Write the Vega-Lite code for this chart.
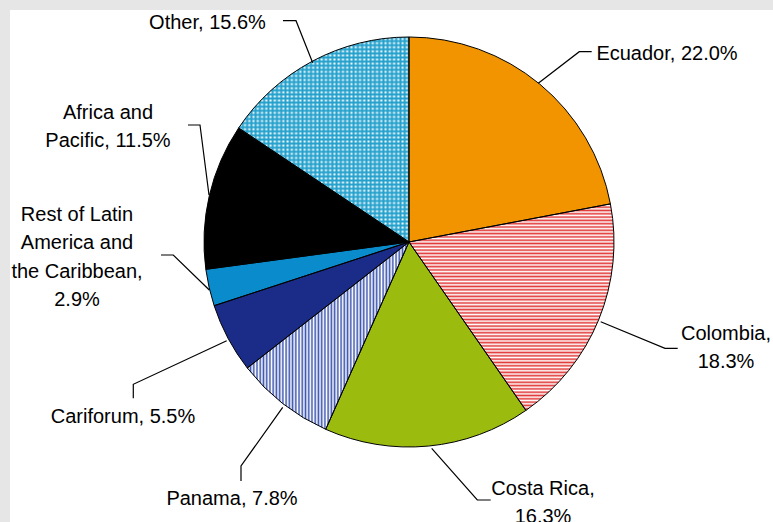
{
  "$schema": "https://vega.github.io/schema/vega-lite/v6.json",
  "width": 763,
  "height": 512,
  "autosize": {"type": "none"},
  "padding": {"left": 10, "top": 10, "right": 0, "bottom": 0},
  "background": "#e6e6e6",
  "view": {"fill": "#ffffff", "stroke": null},
  "datasets": {
    "slices": [
      {"region": "Ecuador", "share": 22.0, "idx": 1},
      {"region": "Colombia", "share": 18.3, "idx": 2},
      {"region": "Costa Rica", "share": 16.3, "idx": 3},
      {"region": "Panama", "share": 7.8, "idx": 4},
      {"region": "Cariforum", "share": 5.5, "idx": 5},
      {"region": "Rest of Latin America and the Caribbean", "share": 2.9, "idx": 6},
      {"region": "Africa and Pacific", "share": 11.5, "idx": 7},
      {"region": "Other", "share": 15.6, "idx": 8}
    ],
    "leaders": [
      {"region": "Ecuador", "seq": 1, "x": 63.07, "y": 77.41},
      {"region": "Ecuador", "seq": 2, "x": 83.07, "y": 92.83},
      {"region": "Ecuador", "seq": 3, "x": 89.12, "y": 92.83},
      {"region": "Colombia", "seq": 1, "x": 93.51, "y": -38.88},
      {"region": "Colombia", "seq": 2, "x": 124.88, "y": -51.85},
      {"region": "Colombia", "seq": 3, "x": 131.07, "y": -51.85},
      {"region": "Costa Rica", "seq": 1, "x": 11.07, "y": -100.63},
      {"region": "Costa Rica", "seq": 2, "x": 33.32, "y": -125.85},
      {"region": "Costa Rica", "seq": 3, "x": 39.85, "y": -125.85},
      {"region": "Panama", "seq": 1, "x": -61.61, "y": -80.63},
      {"region": "Panama", "seq": 2, "x": -81.95, "y": -109.27},
      {"region": "Panama", "seq": 3, "x": -81.95, "y": -116.59},
      {"region": "Cariforum", "seq": 1, "x": -88.93, "y": -48.15},
      {"region": "Cariforum", "seq": 2, "x": -134.49, "y": -69.41},
      {"region": "Cariforum", "seq": 3, "x": -134.49, "y": -76.24},
      {"region": "Rest", "seq": 1, "x": -97.41, "y": -23.41},
      {"region": "Rest", "seq": 2, "x": -114.98, "y": -6.34},
      {"region": "Rest", "seq": 3, "x": -120.98, "y": -6.34},
      {"region": "Africa and Pacific", "seq": 1, "x": -97.56, "y": 22.93},
      {"region": "Africa and Pacific", "seq": 2, "x": -101.95, "y": 57.07},
      {"region": "Africa and Pacific", "seq": 3, "x": -107.8, "y": 57.07},
      {"region": "Other", "seq": 1, "x": -46.98, "y": 87.46},
      {"region": "Other", "seq": 2, "x": -55.12, "y": 107.95},
      {"region": "Other", "seq": 3, "x": -61.46, "y": 107.95}
    ],
    "labels": [
      {"label": "Ecuador, 22.0%", "x": 125.85, "y": 91.71},
      {"label": "Colombia,\n18.3%", "x": 154.63, "y": -44.88},
      {"label": "Costa Rica,\n16.3%", "x": 65.37, "y": -120.49},
      {"label": "Panama, 7.8%", "x": -86.34, "y": -125.37},
      {"label": "Cariforum, 5.5%", "x": -139.51, "y": -85.37},
      {"label": "Rest of Latin\nAmerica and\nthe Caribbean,\n2.9%", "x": -161.95, "y": 13.17},
      {"label": "Africa and\nPacific, 11.5%", "x": -146.83, "y": 62.93},
      {"label": "Other, 15.6%", "x": -98.29, "y": 107.07}
    ]
  },
  "layer": [
    {
      "data": {"name": "slices"},
      "mark": {"type": "arc", "radius": 205, "strokeWidth": 0},
      "encoding": {
        "theta": {"field": "share", "type": "quantitative", "stack": true},
        "order": {"field": "idx", "type": "quantitative"},
        "x": {"datum": 0, "type": "quantitative", "scale": {"domain": [-194.63, 177.56], "nice": false, "zero": false}, "axis": null},
        "y": {"datum": 0, "type": "quantitative", "scale": {"domain": [-136.59, 113.17], "nice": false, "zero": false}, "axis": null},
        "color": {
          "field": "region",
          "type": "nominal",
          "legend": null,
          "scale": {
            "domain": ["Ecuador", "Colombia", "Costa Rica", "Panama", "Cariforum", "Rest of Latin America and the Caribbean", "Africa and Pacific", "Other"],
            "range": ["#f29400", "#ffffff", "#9bbc0f", "#ffffff", "#1a2b88", "#0a8bcc", "#000000", "#ffffff"]
          }
        }
      }
    },
    {
      "data": {"name": "slices"},
      "mark": {"type": "arc", "radius": 205, "strokeWidth": 0,
        "fill": {"gradient": "linear", "x1": 0, "y1": 0, "x2": 0, "y2": 1, "stops": [
          {"offset": 0, "color": "#e23a3a"}, {"offset": 0.008, "color": "#ffffff"}, {"offset": 0.016, "color": "#e23a3a"}, {"offset": 0.024, "color": "#ffffff"}, {"offset": 0.032, "color": "#e23a3a"}, {"offset": 0.04, "color": "#ffffff"}, {"offset": 0.048, "color": "#e23a3a"}, {"offset": 0.056, "color": "#ffffff"}, {"offset": 0.064, "color": "#e23a3a"}, {"offset": 0.072, "color": "#ffffff"}, {"offset": 0.08, "color": "#e23a3a"}, {"offset": 0.088, "color": "#ffffff"}, {"offset": 0.096, "color": "#e23a3a"}, {"offset": 0.104, "color": "#ffffff"}, {"offset": 0.112, "color": "#e23a3a"}, {"offset": 0.12, "color": "#ffffff"}, {"offset": 0.128, "color": "#e23a3a"}, {"offset": 0.136, "color": "#ffffff"}, {"offset": 0.144, "color": "#e23a3a"}, {"offset": 0.152, "color": "#ffffff"}, {"offset": 0.16, "color": "#e23a3a"}, {"offset": 0.168, "color": "#ffffff"}, {"offset": 0.176, "color": "#e23a3a"}, {"offset": 0.184, "color": "#ffffff"}, {"offset": 0.192, "color": "#e23a3a"}, {"offset": 0.2, "color": "#ffffff"},
          {"offset": 0.208, "color": "#e23a3a"}, {"offset": 0.216, "color": "#ffffff"}, {"offset": 0.224, "color": "#e23a3a"}, {"offset": 0.232, "color": "#ffffff"}, {"offset": 0.24, "color": "#e23a3a"}, {"offset": 0.248, "color": "#ffffff"}, {"offset": 0.256, "color": "#e23a3a"}, {"offset": 0.264, "color": "#ffffff"}, {"offset": 0.272, "color": "#e23a3a"}, {"offset": 0.28, "color": "#ffffff"}, {"offset": 0.288, "color": "#e23a3a"}, {"offset": 0.296, "color": "#ffffff"}, {"offset": 0.304, "color": "#e23a3a"}, {"offset": 0.312, "color": "#ffffff"}, {"offset": 0.32, "color": "#e23a3a"}, {"offset": 0.328, "color": "#ffffff"}, {"offset": 0.336, "color": "#e23a3a"}, {"offset": 0.344, "color": "#ffffff"}, {"offset": 0.352, "color": "#e23a3a"}, {"offset": 0.36, "color": "#ffffff"}, {"offset": 0.368, "color": "#e23a3a"}, {"offset": 0.376, "color": "#ffffff"}, {"offset": 0.384, "color": "#e23a3a"}, {"offset": 0.392, "color": "#ffffff"}, {"offset": 0.4, "color": "#e23a3a"},
          {"offset": 0.408, "color": "#ffffff"}, {"offset": 0.416, "color": "#e23a3a"}, {"offset": 0.424, "color": "#ffffff"}, {"offset": 0.432, "color": "#e23a3a"}, {"offset": 0.44, "color": "#ffffff"}, {"offset": 0.448, "color": "#e23a3a"}, {"offset": 0.456, "color": "#ffffff"}, {"offset": 0.464, "color": "#e23a3a"}, {"offset": 0.472, "color": "#ffffff"}, {"offset": 0.48, "color": "#e23a3a"}, {"offset": 0.488, "color": "#ffffff"}, {"offset": 0.496, "color": "#e23a3a"}, {"offset": 0.504, "color": "#ffffff"}, {"offset": 0.512, "color": "#e23a3a"}, {"offset": 0.52, "color": "#ffffff"}, {"offset": 0.528, "color": "#e23a3a"}, {"offset": 0.536, "color": "#ffffff"}, {"offset": 0.544, "color": "#e23a3a"}, {"offset": 0.552, "color": "#ffffff"}, {"offset": 0.56, "color": "#e23a3a"}, {"offset": 0.568, "color": "#ffffff"}, {"offset": 0.576, "color": "#e23a3a"}, {"offset": 0.584, "color": "#ffffff"}, {"offset": 0.592, "color": "#e23a3a"}, {"offset": 0.6, "color": "#ffffff"},
          {"offset": 0.608, "color": "#e23a3a"}, {"offset": 0.616, "color": "#ffffff"}, {"offset": 0.624, "color": "#e23a3a"}, {"offset": 0.632, "color": "#ffffff"}, {"offset": 0.64, "color": "#e23a3a"}, {"offset": 0.648, "color": "#ffffff"}, {"offset": 0.656, "color": "#e23a3a"}, {"offset": 0.664, "color": "#ffffff"}, {"offset": 0.672, "color": "#e23a3a"}, {"offset": 0.68, "color": "#ffffff"}, {"offset": 0.688, "color": "#e23a3a"}, {"offset": 0.696, "color": "#ffffff"}, {"offset": 0.704, "color": "#e23a3a"}, {"offset": 0.712, "color": "#ffffff"}, {"offset": 0.72, "color": "#e23a3a"}, {"offset": 0.728, "color": "#ffffff"}, {"offset": 0.736, "color": "#e23a3a"}, {"offset": 0.744, "color": "#ffffff"}, {"offset": 0.752, "color": "#e23a3a"}, {"offset": 0.76, "color": "#ffffff"}, {"offset": 0.768, "color": "#e23a3a"}, {"offset": 0.776, "color": "#ffffff"}, {"offset": 0.784, "color": "#e23a3a"}, {"offset": 0.792, "color": "#ffffff"}, {"offset": 0.8, "color": "#e23a3a"},
          {"offset": 0.808, "color": "#ffffff"}, {"offset": 0.816, "color": "#e23a3a"}, {"offset": 0.824, "color": "#ffffff"}, {"offset": 0.832, "color": "#e23a3a"}, {"offset": 0.84, "color": "#ffffff"}, {"offset": 0.848, "color": "#e23a3a"}, {"offset": 0.856, "color": "#ffffff"}, {"offset": 0.864, "color": "#e23a3a"}, {"offset": 0.872, "color": "#ffffff"}, {"offset": 0.88, "color": "#e23a3a"}, {"offset": 0.888, "color": "#ffffff"}, {"offset": 0.896, "color": "#e23a3a"}, {"offset": 0.904, "color": "#ffffff"}, {"offset": 0.912, "color": "#e23a3a"}, {"offset": 0.92, "color": "#ffffff"}, {"offset": 0.928, "color": "#e23a3a"}, {"offset": 0.936, "color": "#ffffff"}, {"offset": 0.944, "color": "#e23a3a"}, {"offset": 0.952, "color": "#ffffff"}, {"offset": 0.96, "color": "#e23a3a"}, {"offset": 0.968, "color": "#ffffff"}, {"offset": 0.976, "color": "#e23a3a"}, {"offset": 0.984, "color": "#ffffff"}, {"offset": 0.992, "color": "#e23a3a"}, {"offset": 1, "color": "#ffffff"}
        ]}
      },
      "encoding": {
        "theta": {"field": "share", "type": "quantitative", "stack": true},
        "order": {"field": "idx", "type": "quantitative"},
        "detail": {"field": "region", "type": "nominal"},
        "x": {"datum": 0, "type": "quantitative", "axis": null},
        "y": {"datum": 0, "type": "quantitative", "axis": null},
        "fillOpacity": {"condition": {"test": "datum.region === 'Colombia'", "value": 1}, "value": 0}
      }
    },
    {
      "data": {"name": "slices"},
      "mark": {"type": "arc", "radius": 205, "strokeWidth": 0,
        "fill": {"gradient": "linear", "x1": 0, "y1": 0, "x2": 1, "y2": 0, "stops": [
          {"offset": 0, "color": "#3d56b0"}, {"offset": 0.01, "color": "#ffffff"}, {"offset": 0.02, "color": "#3d56b0"}, {"offset": 0.03, "color": "#ffffff"}, {"offset": 0.04, "color": "#3d56b0"}, {"offset": 0.05, "color": "#ffffff"}, {"offset": 0.06, "color": "#3d56b0"}, {"offset": 0.07, "color": "#ffffff"}, {"offset": 0.08, "color": "#3d56b0"}, {"offset": 0.09, "color": "#ffffff"},
          {"offset": 0.1, "color": "#3d56b0"}, {"offset": 0.11, "color": "#ffffff"}, {"offset": 0.12, "color": "#3d56b0"}, {"offset": 0.13, "color": "#ffffff"}, {"offset": 0.14, "color": "#3d56b0"}, {"offset": 0.15, "color": "#ffffff"}, {"offset": 0.16, "color": "#3d56b0"}, {"offset": 0.17, "color": "#ffffff"}, {"offset": 0.18, "color": "#3d56b0"}, {"offset": 0.19, "color": "#ffffff"},
          {"offset": 0.2, "color": "#3d56b0"}, {"offset": 0.21, "color": "#ffffff"}, {"offset": 0.22, "color": "#3d56b0"}, {"offset": 0.23, "color": "#ffffff"}, {"offset": 0.24, "color": "#3d56b0"}, {"offset": 0.25, "color": "#ffffff"}, {"offset": 0.26, "color": "#3d56b0"}, {"offset": 0.27, "color": "#ffffff"}, {"offset": 0.28, "color": "#3d56b0"}, {"offset": 0.29, "color": "#ffffff"},
          {"offset": 0.3, "color": "#3d56b0"}, {"offset": 0.31, "color": "#ffffff"}, {"offset": 0.32, "color": "#3d56b0"}, {"offset": 0.33, "color": "#ffffff"}, {"offset": 0.34, "color": "#3d56b0"}, {"offset": 0.35, "color": "#ffffff"}, {"offset": 0.36, "color": "#3d56b0"}, {"offset": 0.37, "color": "#ffffff"}, {"offset": 0.38, "color": "#3d56b0"}, {"offset": 0.39, "color": "#ffffff"},
          {"offset": 0.4, "color": "#3d56b0"}, {"offset": 0.41, "color": "#ffffff"}, {"offset": 0.42, "color": "#3d56b0"}, {"offset": 0.43, "color": "#ffffff"}, {"offset": 0.44, "color": "#3d56b0"}, {"offset": 0.45, "color": "#ffffff"}, {"offset": 0.46, "color": "#3d56b0"}, {"offset": 0.47, "color": "#ffffff"}, {"offset": 0.48, "color": "#3d56b0"}, {"offset": 0.49, "color": "#ffffff"},
          {"offset": 0.5, "color": "#3d56b0"}, {"offset": 0.51, "color": "#ffffff"}, {"offset": 0.52, "color": "#3d56b0"}, {"offset": 0.53, "color": "#ffffff"}, {"offset": 0.54, "color": "#3d56b0"}, {"offset": 0.55, "color": "#ffffff"}, {"offset": 0.56, "color": "#3d56b0"}, {"offset": 0.57, "color": "#ffffff"}, {"offset": 0.58, "color": "#3d56b0"}, {"offset": 0.59, "color": "#ffffff"},
          {"offset": 0.6, "color": "#3d56b0"}, {"offset": 0.61, "color": "#ffffff"}, {"offset": 0.62, "color": "#3d56b0"}, {"offset": 0.63, "color": "#ffffff"}, {"offset": 0.64, "color": "#3d56b0"}, {"offset": 0.65, "color": "#ffffff"}, {"offset": 0.66, "color": "#3d56b0"}, {"offset": 0.67, "color": "#ffffff"}, {"offset": 0.68, "color": "#3d56b0"}, {"offset": 0.69, "color": "#ffffff"},
          {"offset": 0.7, "color": "#3d56b0"}, {"offset": 0.71, "color": "#ffffff"}, {"offset": 0.72, "color": "#3d56b0"}, {"offset": 0.73, "color": "#ffffff"}, {"offset": 0.74, "color": "#3d56b0"}, {"offset": 0.75, "color": "#ffffff"}, {"offset": 0.76, "color": "#3d56b0"}, {"offset": 0.77, "color": "#ffffff"}, {"offset": 0.78, "color": "#3d56b0"}, {"offset": 0.79, "color": "#ffffff"},
          {"offset": 0.8, "color": "#3d56b0"}, {"offset": 0.81, "color": "#ffffff"}, {"offset": 0.82, "color": "#3d56b0"}, {"offset": 0.83, "color": "#ffffff"}, {"offset": 0.84, "color": "#3d56b0"}, {"offset": 0.85, "color": "#ffffff"}, {"offset": 0.86, "color": "#3d56b0"}, {"offset": 0.87, "color": "#ffffff"}, {"offset": 0.88, "color": "#3d56b0"}, {"offset": 0.89, "color": "#ffffff"},
          {"offset": 0.9, "color": "#3d56b0"}, {"offset": 0.91, "color": "#ffffff"}, {"offset": 0.92, "color": "#3d56b0"}, {"offset": 0.93, "color": "#ffffff"}, {"offset": 0.94, "color": "#3d56b0"}, {"offset": 0.95, "color": "#ffffff"}, {"offset": 0.96, "color": "#3d56b0"}, {"offset": 0.97, "color": "#ffffff"}, {"offset": 0.98, "color": "#3d56b0"}, {"offset": 0.99, "color": "#ffffff"}, {"offset": 1, "color": "#3d56b0"}
        ]}
      },
      "encoding": {
        "theta": {"field": "share", "type": "quantitative", "stack": true},
        "order": {"field": "idx", "type": "quantitative"},
        "detail": {"field": "region", "type": "nominal"},
        "x": {"datum": 0, "type": "quantitative", "axis": null},
        "y": {"datum": 0, "type": "quantitative", "axis": null},
        "fillOpacity": {"condition": {"test": "datum.region === 'Panama'", "value": 1}, "value": 0}
      }
    },
    {
      "data": {"name": "slices"},
      "mark": {"type": "arc", "radius": 205, "strokeWidth": 0,
        "fill": {"gradient": "linear", "x1": 0, "y1": 0, "x2": 1, "y2": 0, "stops": [
          {"offset": 0, "color": "#22a0cc"}, {"offset": 0.0125, "color": "#ffffff"}, {"offset": 0.025, "color": "#22a0cc"}, {"offset": 0.0375, "color": "#ffffff"}, {"offset": 0.05, "color": "#22a0cc"}, {"offset": 0.0625, "color": "#ffffff"}, {"offset": 0.075, "color": "#22a0cc"}, {"offset": 0.0875, "color": "#ffffff"}, {"offset": 0.1, "color": "#22a0cc"}, {"offset": 0.1125, "color": "#ffffff"}, {"offset": 0.125, "color": "#22a0cc"}, {"offset": 0.1375, "color": "#ffffff"}, {"offset": 0.15, "color": "#22a0cc"}, {"offset": 0.1625, "color": "#ffffff"}, {"offset": 0.175, "color": "#22a0cc"}, {"offset": 0.1875, "color": "#ffffff"},
          {"offset": 0.2, "color": "#22a0cc"}, {"offset": 0.2125, "color": "#ffffff"}, {"offset": 0.225, "color": "#22a0cc"}, {"offset": 0.2375, "color": "#ffffff"}, {"offset": 0.25, "color": "#22a0cc"}, {"offset": 0.2625, "color": "#ffffff"}, {"offset": 0.275, "color": "#22a0cc"}, {"offset": 0.2875, "color": "#ffffff"}, {"offset": 0.3, "color": "#22a0cc"}, {"offset": 0.3125, "color": "#ffffff"}, {"offset": 0.325, "color": "#22a0cc"}, {"offset": 0.3375, "color": "#ffffff"}, {"offset": 0.35, "color": "#22a0cc"}, {"offset": 0.3625, "color": "#ffffff"}, {"offset": 0.375, "color": "#22a0cc"}, {"offset": 0.3875, "color": "#ffffff"},
          {"offset": 0.4, "color": "#22a0cc"}, {"offset": 0.4125, "color": "#ffffff"}, {"offset": 0.425, "color": "#22a0cc"}, {"offset": 0.4375, "color": "#ffffff"}, {"offset": 0.45, "color": "#22a0cc"}, {"offset": 0.4625, "color": "#ffffff"}, {"offset": 0.475, "color": "#22a0cc"}, {"offset": 0.4875, "color": "#ffffff"}, {"offset": 0.5, "color": "#22a0cc"}, {"offset": 0.5125, "color": "#ffffff"}, {"offset": 0.525, "color": "#22a0cc"}, {"offset": 0.5375, "color": "#ffffff"}, {"offset": 0.55, "color": "#22a0cc"}, {"offset": 0.5625, "color": "#ffffff"}, {"offset": 0.575, "color": "#22a0cc"}, {"offset": 0.5875, "color": "#ffffff"},
          {"offset": 0.6, "color": "#22a0cc"}, {"offset": 0.6125, "color": "#ffffff"}, {"offset": 0.625, "color": "#22a0cc"}, {"offset": 0.6375, "color": "#ffffff"}, {"offset": 0.65, "color": "#22a0cc"}, {"offset": 0.6625, "color": "#ffffff"}, {"offset": 0.675, "color": "#22a0cc"}, {"offset": 0.6875, "color": "#ffffff"}, {"offset": 0.7, "color": "#22a0cc"}, {"offset": 0.7125, "color": "#ffffff"}, {"offset": 0.725, "color": "#22a0cc"}, {"offset": 0.7375, "color": "#ffffff"}, {"offset": 0.75, "color": "#22a0cc"}, {"offset": 0.7625, "color": "#ffffff"}, {"offset": 0.775, "color": "#22a0cc"}, {"offset": 0.7875, "color": "#ffffff"},
          {"offset": 0.8, "color": "#22a0cc"}, {"offset": 0.8125, "color": "#ffffff"}, {"offset": 0.825, "color": "#22a0cc"}, {"offset": 0.8375, "color": "#ffffff"}, {"offset": 0.85, "color": "#22a0cc"}, {"offset": 0.8625, "color": "#ffffff"}, {"offset": 0.875, "color": "#22a0cc"}, {"offset": 0.8875, "color": "#ffffff"}, {"offset": 0.9, "color": "#22a0cc"}, {"offset": 0.9125, "color": "#ffffff"}, {"offset": 0.925, "color": "#22a0cc"}, {"offset": 0.9375, "color": "#ffffff"}, {"offset": 0.95, "color": "#22a0cc"}, {"offset": 0.9625, "color": "#ffffff"}, {"offset": 0.975, "color": "#22a0cc"}, {"offset": 0.9875, "color": "#ffffff"}, {"offset": 1, "color": "#22a0cc"}
        ]}
      },
      "encoding": {
        "theta": {"field": "share", "type": "quantitative", "stack": true},
        "order": {"field": "idx", "type": "quantitative"},
        "detail": {"field": "region", "type": "nominal"},
        "x": {"datum": 0, "type": "quantitative", "axis": null},
        "y": {"datum": 0, "type": "quantitative", "axis": null},
        "fillOpacity": {"condition": {"test": "datum.region === 'Other'", "value": 1}, "value": 0}
      }
    },
    {
      "data": {"name": "slices"},
      "mark": {"type": "arc", "radius": 205, "strokeWidth": 0,
        "fill": {"gradient": "linear", "x1": 0, "y1": 0, "x2": 0, "y2": 1, "stops": [
          {"offset": 0, "color": "rgba(34,160,204,1)"}, {"offset": 0.01, "color": "rgba(34,160,204,0)"}, {"offset": 0.02, "color": "rgba(34,160,204,1)"}, {"offset": 0.03, "color": "rgba(34,160,204,0)"}, {"offset": 0.04, "color": "rgba(34,160,204,1)"}, {"offset": 0.05, "color": "rgba(34,160,204,0)"}, {"offset": 0.06, "color": "rgba(34,160,204,1)"}, {"offset": 0.07, "color": "rgba(34,160,204,0)"}, {"offset": 0.08, "color": "rgba(34,160,204,1)"}, {"offset": 0.09, "color": "rgba(34,160,204,0)"},
          {"offset": 0.1, "color": "rgba(34,160,204,1)"}, {"offset": 0.11, "color": "rgba(34,160,204,0)"}, {"offset": 0.12, "color": "rgba(34,160,204,1)"}, {"offset": 0.13, "color": "rgba(34,160,204,0)"}, {"offset": 0.14, "color": "rgba(34,160,204,1)"}, {"offset": 0.15, "color": "rgba(34,160,204,0)"}, {"offset": 0.16, "color": "rgba(34,160,204,1)"}, {"offset": 0.17, "color": "rgba(34,160,204,0)"}, {"offset": 0.18, "color": "rgba(34,160,204,1)"}, {"offset": 0.19, "color": "rgba(34,160,204,0)"},
          {"offset": 0.2, "color": "rgba(34,160,204,1)"}, {"offset": 0.21, "color": "rgba(34,160,204,0)"}, {"offset": 0.22, "color": "rgba(34,160,204,1)"}, {"offset": 0.23, "color": "rgba(34,160,204,0)"}, {"offset": 0.24, "color": "rgba(34,160,204,1)"}, {"offset": 0.25, "color": "rgba(34,160,204,0)"}, {"offset": 0.26, "color": "rgba(34,160,204,1)"}, {"offset": 0.27, "color": "rgba(34,160,204,0)"}, {"offset": 0.28, "color": "rgba(34,160,204,1)"}, {"offset": 0.29, "color": "rgba(34,160,204,0)"},
          {"offset": 0.3, "color": "rgba(34,160,204,1)"}, {"offset": 0.31, "color": "rgba(34,160,204,0)"}, {"offset": 0.32, "color": "rgba(34,160,204,1)"}, {"offset": 0.33, "color": "rgba(34,160,204,0)"}, {"offset": 0.34, "color": "rgba(34,160,204,1)"}, {"offset": 0.35, "color": "rgba(34,160,204,0)"}, {"offset": 0.36, "color": "rgba(34,160,204,1)"}, {"offset": 0.37, "color": "rgba(34,160,204,0)"}, {"offset": 0.38, "color": "rgba(34,160,204,1)"}, {"offset": 0.39, "color": "rgba(34,160,204,0)"},
          {"offset": 0.4, "color": "rgba(34,160,204,1)"}, {"offset": 0.41, "color": "rgba(34,160,204,0)"}, {"offset": 0.42, "color": "rgba(34,160,204,1)"}, {"offset": 0.43, "color": "rgba(34,160,204,0)"}, {"offset": 0.44, "color": "rgba(34,160,204,1)"}, {"offset": 0.45, "color": "rgba(34,160,204,0)"}, {"offset": 0.46, "color": "rgba(34,160,204,1)"}, {"offset": 0.47, "color": "rgba(34,160,204,0)"}, {"offset": 0.48, "color": "rgba(34,160,204,1)"}, {"offset": 0.49, "color": "rgba(34,160,204,0)"},
          {"offset": 0.5, "color": "rgba(34,160,204,1)"}, {"offset": 0.51, "color": "rgba(34,160,204,0)"}, {"offset": 0.52, "color": "rgba(34,160,204,1)"}, {"offset": 0.53, "color": "rgba(34,160,204,0)"}, {"offset": 0.54, "color": "rgba(34,160,204,1)"}, {"offset": 0.55, "color": "rgba(34,160,204,0)"}, {"offset": 0.56, "color": "rgba(34,160,204,1)"}, {"offset": 0.57, "color": "rgba(34,160,204,0)"}, {"offset": 0.58, "color": "rgba(34,160,204,1)"}, {"offset": 0.59, "color": "rgba(34,160,204,0)"},
          {"offset": 0.6, "color": "rgba(34,160,204,1)"}, {"offset": 0.61, "color": "rgba(34,160,204,0)"}, {"offset": 0.62, "color": "rgba(34,160,204,1)"}, {"offset": 0.63, "color": "rgba(34,160,204,0)"}, {"offset": 0.64, "color": "rgba(34,160,204,1)"}, {"offset": 0.65, "color": "rgba(34,160,204,0)"}, {"offset": 0.66, "color": "rgba(34,160,204,1)"}, {"offset": 0.67, "color": "rgba(34,160,204,0)"}, {"offset": 0.68, "color": "rgba(34,160,204,1)"}, {"offset": 0.69, "color": "rgba(34,160,204,0)"},
          {"offset": 0.7, "color": "rgba(34,160,204,1)"}, {"offset": 0.71, "color": "rgba(34,160,204,0)"}, {"offset": 0.72, "color": "rgba(34,160,204,1)"}, {"offset": 0.73, "color": "rgba(34,160,204,0)"}, {"offset": 0.74, "color": "rgba(34,160,204,1)"}, {"offset": 0.75, "color": "rgba(34,160,204,0)"}, {"offset": 0.76, "color": "rgba(34,160,204,1)"}, {"offset": 0.77, "color": "rgba(34,160,204,0)"}, {"offset": 0.78, "color": "rgba(34,160,204,1)"}, {"offset": 0.79, "color": "rgba(34,160,204,0)"},
          {"offset": 0.8, "color": "rgba(34,160,204,1)"}, {"offset": 0.81, "color": "rgba(34,160,204,0)"}, {"offset": 0.82, "color": "rgba(34,160,204,1)"}, {"offset": 0.83, "color": "rgba(34,160,204,0)"}, {"offset": 0.84, "color": "rgba(34,160,204,1)"}, {"offset": 0.85, "color": "rgba(34,160,204,0)"}, {"offset": 0.86, "color": "rgba(34,160,204,1)"}, {"offset": 0.87, "color": "rgba(34,160,204,0)"}, {"offset": 0.88, "color": "rgba(34,160,204,1)"}, {"offset": 0.89, "color": "rgba(34,160,204,0)"},
          {"offset": 0.9, "color": "rgba(34,160,204,1)"}, {"offset": 0.91, "color": "rgba(34,160,204,0)"}, {"offset": 0.92, "color": "rgba(34,160,204,1)"}, {"offset": 0.93, "color": "rgba(34,160,204,0)"}, {"offset": 0.94, "color": "rgba(34,160,204,1)"}, {"offset": 0.95, "color": "rgba(34,160,204,0)"}, {"offset": 0.96, "color": "rgba(34,160,204,1)"}, {"offset": 0.97, "color": "rgba(34,160,204,0)"}, {"offset": 0.98, "color": "rgba(34,160,204,1)"}, {"offset": 0.99, "color": "rgba(34,160,204,0)"}, {"offset": 1, "color": "rgba(34,160,204,1)"}
        ]}
      },
      "encoding": {
        "theta": {"field": "share", "type": "quantitative", "stack": true},
        "order": {"field": "idx", "type": "quantitative"},
        "detail": {"field": "region", "type": "nominal"},
        "x": {"datum": 0, "type": "quantitative", "axis": null},
        "y": {"datum": 0, "type": "quantitative", "axis": null},
        "fillOpacity": {"condition": {"test": "datum.region === 'Other'", "value": 1}, "value": 0}
      }
    },
    {
      "data": {"name": "slices"},
      "mark": {"type": "arc", "radius": 205, "fill": null, "fillOpacity": 0, "stroke": "#000000", "strokeWidth": 1},
      "encoding": {
        "theta": {"field": "share", "type": "quantitative", "stack": true},
        "order": {"field": "idx", "type": "quantitative"},
        "detail": {"field": "region", "type": "nominal"},
        "x": {"datum": 0, "type": "quantitative", "axis": null},
        "y": {"datum": 0, "type": "quantitative", "axis": null}
      }
    },
    {
      "data": {"name": "leaders"},
      "mark": {"type": "line", "color": "#000000", "strokeWidth": 1.2},
      "encoding": {
        "x": {"field": "x", "type": "quantitative", "axis": null},
        "y": {"field": "y", "type": "quantitative", "axis": null},
        "detail": {"field": "region", "type": "nominal"},
        "order": {"field": "seq", "type": "quantitative"}
      }
    },
    {
      "data": {"name": "labels"},
      "mark": {"type": "text", "font": "Liberation Sans", "fontSize": 20, "lineBreak": "\n", "lineHeight": 28.5, "align": "center", "baseline": "middle", "color": "#000000"},
      "encoding": {
        "x": {"field": "x", "type": "quantitative", "axis": null},
        "y": {"field": "y", "type": "quantitative", "axis": null},
        "text": {"field": "label"}
      }
    }
  ]
}
